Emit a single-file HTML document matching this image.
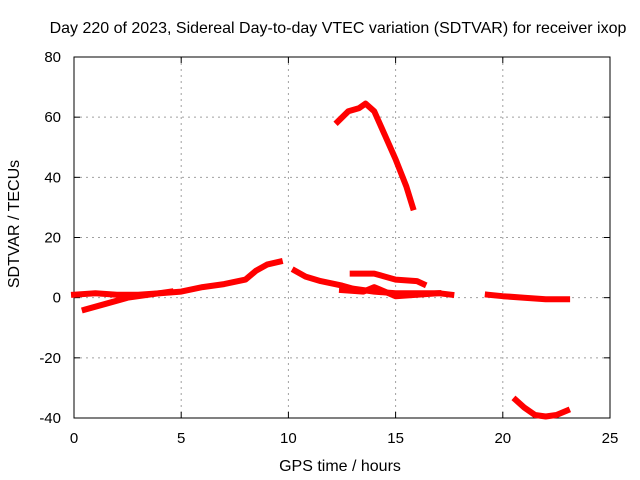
<!DOCTYPE html>
<html><head><meta charset="utf-8"><style>
body{margin:0;background:#fff;}
svg{display:block;font-family:"Liberation Sans",sans-serif;}
</style></head><body>
<svg id="chart" width="640" height="480"></svg>
<script>
const xTicks=[0,5,10,15,20,25];
const yTicks=[-40,-20,0,20,40,60,80];
const seriesA_t=[0,1,2,3,4,5,6,7,8,8.5,9,9.6];
const seriesA_v=[1,1.5,1,1,1.5,2,3.5,4.5,6,9,11,12];
const seriesB_t=[0.5,1.5,2.5,3.5,4.5];
const seriesB_v=[-4,-2,0,1,2];
const seriesC_t=[10.3,10.8,11.5,12.5,13,14,15,16,17,17.6];
const seriesC_v=[9,7,5.5,4,3,2,1.5,1.5,1.5,1];
const seriesD_t=[12.3,12.8,13.3,13.6,14,14.5,15,15.5,15.8];
const seriesD_v=[58.5,62,63,64.5,62,54,46,37,30];
const seriesE_t=[13,14,14.5,15,16,16.3];
const seriesE_v=[8,8,7,6,5.5,4.5];
const seriesF_t=[12.5,13.5,14,14.5,15,16,17];
const seriesF_v=[2.5,2,3.5,2,0.5,1,1.5];
const seriesG_t=[19.3,20,21,22,23];
const seriesG_v=[1,0.5,0,-0.5,-0.5];
const seriesH_t=[20.6,21,21.5,22,22.5,23];
const seriesH_v=[-34,-36.5,-39,-39.5,-39,-37.5];

const L=74,R=610,T=57,B=418;
const xs=t=>L+(t-0)/25*(R-L);
const ys=v=>B-(v+40)/120*(B-T);
const svg=document.getElementById('chart');
const NS='http://www.w3.org/2000/svg';
function mk(tag,attrs,parent){const e=document.createElementNS(NS,tag);for(const k in attrs)e.setAttribute(k,attrs[k]);(parent||svg).appendChild(e);return e;}

const grid=mk('g',{});


xTicks.forEach(t=>{
  if(t>0&&t<25){const l=mk('line',{x1:xs(t),x2:xs(t),y1:T,y2:B,stroke:'#a0a0a0','stroke-dasharray':'2,4'},grid);
  
  }
  const tx=mk('text',{x:xs(t),y:B+25,'text-anchor':'middle','font-size':15,fill:'#000'});
  tx.textContent=t;
  
  
  mk('line',{x1:xs(t),x2:xs(t),y1:B,y2:B-6,stroke:'#000'});
  mk('line',{x1:xs(t),x2:xs(t),y1:T,y2:T+6,stroke:'#000'});
});
yTicks.forEach(v=>{
  if(v>-40&&v<80){const l=mk('line',{x1:L,x2:R,y1:ys(v),y2:ys(v),stroke:'#a0a0a0','stroke-dasharray':'2,4'},grid);
  
  }
  const tx=mk('text',{x:L-13,y:ys(v)+5,'text-anchor':'end','font-size':15,fill:'#000'});
  tx.textContent=v;
  
  
  mk('line',{x1:L,x2:L+6,y1:ys(v),y2:ys(v),stroke:'#000'});
  mk('line',{x1:R,x2:R-6,y1:ys(v),y2:ys(v),stroke:'#000'});
});
const frame=mk('rect',{x:L,y:T,width:R-L,height:B-T,fill:'none',stroke:'#000','stroke-width':1});



const all=[[seriesA_t,seriesA_v],[seriesB_t,seriesB_v],[seriesC_t,seriesC_v],[seriesD_t,seriesD_v],[seriesE_t,seriesE_v],[seriesF_t,seriesF_v],[seriesG_t,seriesG_v],[seriesH_t,seriesH_v]];
all.forEach((s,i)=>{
  const d=s[0].map((t,j)=>(j?'L':'M')+xs(t).toFixed(1)+','+ys(s[1][j]).toFixed(1)).join(' ');
  const p=mk('path',{d:d,fill:'none',stroke:'#ff0000','stroke-width':6,'stroke-linejoin':'round','stroke-linecap':'square'});
  
  
});

const title=mk('text',{x:338,y:33,'text-anchor':'middle','font-size':16,fill:'#000'});
title.textContent='Day 220 of 2023, Sidereal Day-to-day VTEC variation (SDTVAR) for receiver ixop';


const xl=mk('text',{x:340,y:471,'text-anchor':'middle','font-size':16,fill:'#000'});
xl.textContent='GPS time / hours';


const yl=mk('text',{x:0,y:0,'text-anchor':'middle','font-size':16,fill:'#000',transform:'translate(19,224) rotate(-90)'});
yl.textContent='SDTVAR / TECUs';


</script>
</body></html>
